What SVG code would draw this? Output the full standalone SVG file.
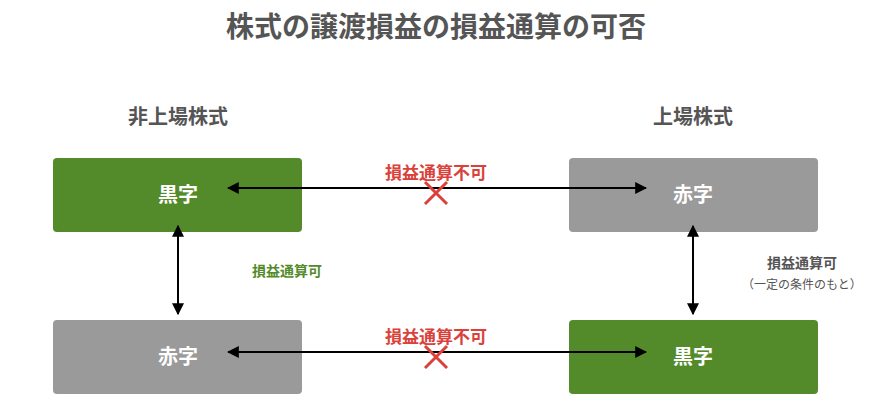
<svg xmlns="http://www.w3.org/2000/svg" width="872" height="402" viewBox="0 0 872 402">
<defs>
<style>
text{font-family:"Noto Sans CJK JP","Noto Sans",sans-serif;font-weight:bold;text-anchor:middle}
.t{font-size:28px;fill:#555}
.h{font-size:20px;fill:#555}
.b{font-size:20px;fill:#fff}
.g{fill:#548b2a}.y{fill:#9a9a9a}
.r{font-size:17px;fill:#d9413a}
.ln{stroke:#000;stroke-width:2;fill:none;marker-start:url(#a);marker-end:url(#a)}
.x{stroke:#d9413a;stroke-width:3;fill:none}
</style>
<marker id="a" viewBox="0 0 10 10" refX="9" refY="5" markerWidth="6" markerHeight="6" orient="auto-start-reverse"><path d="M0,0L10,5L0,10z" fill="#000"/></marker>
</defs>
<text class="t" x="436" y="37">株式の譲渡損益の損益通算の可否</text>
<text class="h" x="178" y="124">非上場株式</text>
<text class="h" x="693" y="124">上場株式</text>
<g id="n1"><rect class="g" x="53" y="158" width="249" height="74" rx="4"/><text class="b" x="178" y="202">黒字</text></g>
<g id="n2"><rect class="y" x="569" y="158" width="249" height="74" rx="4"/><text class="b" x="693" y="202">赤字</text></g>
<g id="n3"><rect class="y" x="53" y="320" width="249" height="74" rx="4"/><text class="b" x="178" y="364">赤字</text></g>
<g id="n4"><rect class="g" x="569" y="320" width="249" height="74" rx="4"/><text class="b" x="693" y="364">黒字</text></g>
<g id="connectors">
<line class="ln" x1="228" y1="188" x2="646" y2="188"/>
<line class="ln" x1="228" y1="352" x2="646" y2="352"/>
<line class="ln" x1="178" y1="226" x2="178" y2="314"/>
<line class="ln" x1="693" y1="226" x2="693" y2="314"/>
<path class="x" d="M425,182L447,204M447,182L425,204"/>
<path class="x" d="M425,346L447,368M447,346L425,368"/>
<text class="r" x="436" y="179">損益通算不可</text>
<text class="r" x="436" y="343">損益通算不可</text>
<text x="287" y="276" style="font-size:14px;fill:#548b2a">損益通算可</text>
<text x="802" y="268" style="font-size:14px;fill:#555">損益通算可</text>
<text x="802" y="289" style="font-size:12px;fill:#555;font-weight:normal">（一定の条件のもと）</text>
</g>
</svg>
